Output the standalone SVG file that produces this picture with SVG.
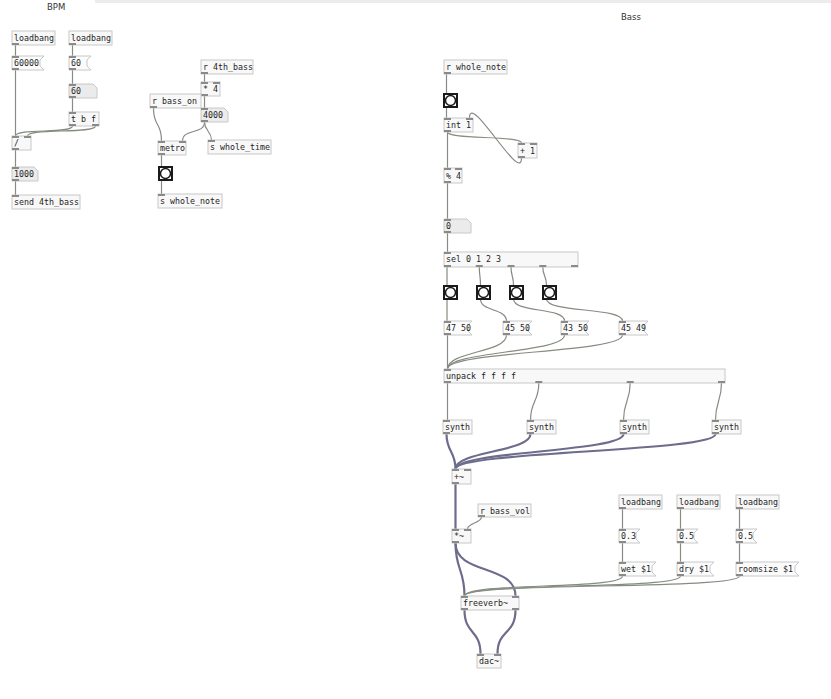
<svg xmlns="http://www.w3.org/2000/svg" width="831" height="699" viewBox="0 0 831 699">
<style>
.o{fill:#f8f8f8;stroke:#c8c8c8;stroke-width:1}
.m{fill:#fbfbfb;stroke:#c8c8c8;stroke-width:1}
.a{fill:#ebebeb;stroke:#c8c8c8;stroke-width:1}
.t{font-family:"DejaVu Sans Mono",monospace;font-size:8.3px;fill:#1e1e1e}
.h{font-family:"DejaVu Sans","Liberation Sans",sans-serif;font-size:8.5px;fill:#333}
.io{fill:#8a8a8a}
.c{fill:none;stroke:#858c80;stroke-width:1.2}
.s{fill:none;stroke:#6e6c8c;stroke-width:2.2}
.bf{fill:#fff;stroke:#1a1a1a;stroke-width:2}
.bc{fill:#fff;stroke:#1a1a1a;stroke-width:1.5}
</style>
<rect width="831" height="699" fill="#fff"/>
<rect x="95" y="0" width="736" height="3" fill="#ececec"/>
<text class="h" x="47" y="10">BPM</text>
<text class="h" x="621" y="20">Bass</text>

<g id="connectors">
<!-- left -->
<path class="c" d="M15.5 45V56"/>
<path class="c" d="M15.5 70V136"/>
<path class="c" d="M72.5 45V56"/>
<path class="c" d="M72.5 70V84"/>
<path class="c" d="M72.5 98V112"/>
<path class="c" d="M72.5 126C72.5 134 15.5 128 15.5 136"/>
<path class="c" d="M95.5 126C95.5 134 27.5 128 27.5 136"/>
<path class="c" d="M15.5 150V167"/>
<path class="c" d="M15.5 181V195"/>
<!-- middle -->
<path class="c" d="M204.5 74V82"/>
<path class="c" d="M204.5 96V108"/>
<path class="c" d="M153.5 108C153.5 128 161.5 121 161.5 141"/>
<path class="c" d="M204.5 122C204.5 135 182.5 128 182.5 141"/>
<path class="c" d="M204.5 122C204.5 131 211.5 131 211.5 140"/>
<path class="c" d="M161.5 155V166"/>
<path class="c" d="M161.5 181V194"/>
<!-- right -->
<path class="c" d="M446.5 74V93"/>
<path class="c" d="M446.5 107V118"/>
<path class="c" d="M447.5 132C447.5 140 521.5 135 521.5 143"/>
<path class="c" d="M521.5 158C521.5 185 469.5 91 469.5 118"/>
<path class="c" d="M447.5 132V168"/>
<path class="c" d="M447.5 183V219"/>
<path class="c" d="M447.5 233V252"/>
<path class="c" d="M447 267V285"/>
<path class="c" d="M479.3 267C479.3 276 480.5 276 480.5 285"/>
<path class="c" d="M511 267C511 276 513.5 276 513.5 285"/>
<path class="c" d="M542.8 267C542.8 276 546.5 276 546.5 285"/>
<path class="c" d="M447 299V321"/>
<path class="c" d="M480.5 299C480.5 312 506.5 308 506.5 321"/>
<path class="c" d="M513.5 299C513.5 313 564.5 307 564.5 321"/>
<path class="c" d="M546.5 299C546.5 313 622.5 307 622.5 321"/>
<path class="c" d="M447.5 335V369"/>
<path class="c" d="M506.5 335C506.5 353 447.5 351 447.5 369"/>
<path class="c" d="M564.5 335C564.5 353 447.5 351 447.5 369"/>
<path class="c" d="M622.5 335C622.5 353 447.5 351 447.5 369"/>
<path class="c" d="M447.5 383V420"/>
<path class="c" d="M538.8 383C538.8 402 530.5 401 530.5 420"/>
<path class="c" d="M630.2 383C630.2 402 623.5 401 623.5 420"/>
<path class="c" d="M721.5 383C721.5 402 715.5 401 715.5 420"/>
<path class="s" d="M446.5 434C446.5 452 455.5 451 455.5 469"/>
<path class="s" d="M530.5 434C530.5 452 455.5 451 455.5 469"/>
<path class="s" d="M623.5 434C623.5 452 455.5 451 455.5 469"/>
<path class="s" d="M715.5 434C715.5 452 455.5 451 455.5 469"/>
<path class="s" d="M455.5 484V529"/>
<path class="c" d="M481.5 517C481.5 523 467.5 523 467.5 529"/>
<path class="s" d="M455.5 543C455.5 570 464.5 569 464.5 596"/>
<path class="s" d="M455.5 543C455.5 575 515.5 564 515.5 596"/>
<path class="c" d="M622.5 509V529"/>
<path class="c" d="M622.5 543V562"/>
<path class="c" d="M680.5 509V529"/>
<path class="c" d="M680.5 543V562"/>
<path class="c" d="M739.5 509V529"/>
<path class="c" d="M739.5 543V562"/>
<path class="c" d="M622.5 576C622.5 590 464.5 582 464.5 596"/>
<path class="c" d="M680.5 576C680.5 590 464.5 582 464.5 596"/>
<path class="c" d="M739.5 576C739.5 590 464.5 582 464.5 596"/>
<path class="s" d="M464.5 610C464.5 635 480.5 629 480.5 654"/>
<path class="s" d="M515.5 610C515.5 635 497.5 629 497.5 654"/>
</g>

<!-- LEFT -->
<g id="loadbang1"><rect class="o" x="12" y="31" width="43" height="14"/><text class="t" x="14" y="41">loadbang</text><rect class="io" x="12" y="43" width="7" height="2"/></g>
<g id="loadbang2"><rect class="o" x="69" y="31" width="43" height="14"/><text class="t" x="71" y="41">loadbang</text><rect class="io" x="69" y="43" width="7" height="2"/></g>
<g id="msg60000"><polygon class="m" points="12,56 44,56 40,60 40,66 44,70 12,70"/><text class="t" x="14" y="66">60000</text><rect class="io" x="12" y="56" width="7" height="2"/><rect class="io" x="12" y="68" width="7" height="2"/></g>
<g id="msg60"><polygon class="m" points="69,56 91,56 87,60 87,66 91,70 69,70"/><text class="t" x="71" y="66">60</text><rect class="io" x="69" y="56" width="7" height="2"/><rect class="io" x="69" y="68" width="7" height="2"/></g>
<g id="num60"><polygon class="a" points="69,84 93,84 97,88 97,98 69,98"/><text class="t" x="71" y="94">60</text><rect class="io" x="69" y="84" width="7" height="2"/><rect class="io" x="69" y="96" width="7" height="2"/></g>
<g id="tbf"><rect class="o" x="69" y="112" width="30" height="14"/><text class="t" x="71" y="122">t b f</text><rect class="io" x="69" y="112" width="7" height="2"/><rect class="io" x="69" y="124" width="7" height="2"/><rect class="io" x="92" y="124" width="7" height="2"/></g>
<g id="div"><rect class="o" x="12" y="136" width="19" height="14"/><text class="t" x="14" y="146">/</text><rect class="io" x="12" y="136" width="7" height="2"/><rect class="io" x="24" y="136" width="7" height="2"/><rect class="io" x="12" y="148" width="7" height="2"/></g>
<g id="num1000"><polygon class="a" points="12,167 34,167 38,171 38,181 12,181"/><text class="t" x="14" y="177">1000</text><rect class="io" x="12" y="167" width="7" height="2"/><rect class="io" x="12" y="179" width="7" height="2"/></g>
<g id="send4th"><rect class="o" x="12" y="195" width="68" height="14"/><text class="t" x="14" y="205">send 4th_bass</text><rect class="io" x="12" y="195" width="7" height="2"/></g>

<!-- MIDDLE -->
<g id="r4th"><rect class="o" x="201" y="60" width="52" height="14"/><text class="t" x="203" y="70">r 4th_bass</text><rect class="io" x="201" y="72" width="7" height="2"/></g>
<g id="mul4"><rect class="o" x="201" y="82" width="19" height="14"/><text class="t" x="203" y="92">* 4</text><rect class="io" x="201" y="82" width="7" height="2"/><rect class="io" x="213" y="82" width="7" height="2"/><rect class="io" x="201" y="94" width="7" height="2"/></g>
<g id="rbasson"><rect class="o" x="150" y="94" width="51" height="14"/><text class="t" x="152" y="104">r bass_on</text><rect class="io" x="150" y="106" width="7" height="2"/></g>
<g id="num4000"><polygon class="a" points="201,108 224,108 228,112 228,122 201,122"/><text class="t" x="203" y="118">4000</text><rect class="io" x="201" y="108" width="7" height="2"/><rect class="io" x="201" y="120" width="7" height="2"/></g>
<g id="metro"><rect class="o" x="158" y="141" width="28" height="14"/><text class="t" x="160" y="151">metro</text><rect class="io" x="158" y="141" width="7" height="2"/><rect class="io" x="179" y="141" width="7" height="2"/><rect class="io" x="158" y="153" width="7" height="2"/></g>
<g id="swholetime"><rect class="o" x="208" y="140" width="63" height="14"/><text class="t" x="210" y="150">s whole_time</text><rect class="io" x="208" y="140" width="7" height="2"/></g>
<g id="bangm"><rect class="bf" x="159" y="167" width="13" height="13"/><circle class="bc" cx="165.5" cy="173.5" r="5"/></g>
<g id="swholenote"><rect class="o" x="158" y="194" width="64" height="14"/><text class="t" x="160" y="204">s whole_note</text><rect class="io" x="158" y="194" width="7" height="2"/></g>

<!-- RIGHT -->
<g id="rwholenote"><rect class="o" x="444" y="60" width="63" height="14"/><text class="t" x="446" y="70">r whole_note</text><rect class="io" x="444" y="72" width="7" height="2"/></g>
<g id="bang0"><rect class="bf" x="444" y="94" width="13" height="13"/><circle class="bc" cx="450.5" cy="100.5" r="5"/></g>
<g id="int1"><rect class="o" x="444" y="118" width="29" height="14"/><text class="t" x="446" y="128">int 1</text><rect class="io" x="444" y="118" width="7" height="2"/><rect class="io" x="466" y="118" width="7" height="2"/><rect class="io" x="444" y="130" width="7" height="2"/></g>
<g id="plus1"><rect class="o" x="518" y="143" width="19" height="15"/><text class="t" x="520" y="154">+ 1</text><rect class="io" x="518" y="143" width="7" height="2"/><rect class="io" x="530" y="143" width="7" height="2"/><rect class="io" x="518" y="156" width="7" height="2"/></g>
<g id="mod4"><rect class="o" x="444" y="168" width="18" height="15"/><text class="t" x="446" y="179">% 4</text><rect class="io" x="444" y="168" width="7" height="2"/><rect class="io" x="455" y="168" width="7" height="2"/><rect class="io" x="444" y="181" width="7" height="2"/></g>
<g id="num0"><polygon class="a" points="444,219 467,219 471,223 471,233 444,233"/><text class="t" x="446" y="229">0</text><rect class="io" x="444" y="219" width="7" height="2"/><rect class="io" x="444" y="231" width="7" height="2"/></g>
<g id="sel"><rect class="o" x="444" y="252" width="134" height="15"/><text class="t" x="446" y="262">sel 0 1 2 3</text><rect class="io" x="444" y="252" width="7" height="2"/><rect class="io" x="444" y="265" width="7" height="2"/><rect class="io" x="475.8" y="265" width="7" height="2"/><rect class="io" x="507.5" y="265" width="7" height="2"/><rect class="io" x="539.3" y="265" width="7" height="2"/><rect class="io" x="571" y="265" width="7" height="2"/></g>
<g id="bang1"><rect class="bf" x="444" y="286" width="13" height="13"/><circle class="bc" cx="450.5" cy="292.5" r="5"/></g>
<g id="bang2"><rect class="bf" x="477" y="286" width="13" height="13"/><circle class="bc" cx="483.5" cy="292.5" r="5"/></g>
<g id="bang3"><rect class="bf" x="510" y="286" width="13" height="13"/><circle class="bc" cx="516.5" cy="292.5" r="5"/></g>
<g id="bang4"><rect class="bf" x="543" y="286" width="13" height="13"/><circle class="bc" cx="549.5" cy="292.5" r="5"/></g>
<g id="msg4750"><polygon class="m" points="444,321 472,321 468,325 468,331 472,335 444,335"/><text class="t" x="446" y="331">47 50</text><rect class="io" x="444" y="321" width="7" height="2"/><rect class="io" x="444" y="333" width="7" height="2"/></g>
<g id="msg4550"><polygon class="m" points="503,321 532,321 528,325 528,331 532,335 503,335"/><text class="t" x="505" y="331">45 50</text><rect class="io" x="503" y="321" width="7" height="2"/><rect class="io" x="503" y="333" width="7" height="2"/></g>
<g id="msg4350"><polygon class="m" points="561,321 589,321 585,325 585,331 589,335 561,335"/><text class="t" x="563" y="331">43 50</text><rect class="io" x="561" y="321" width="7" height="2"/><rect class="io" x="561" y="333" width="7" height="2"/></g>
<g id="msg4549"><polygon class="m" points="619,321 648,321 644,325 644,331 648,335 619,335"/><text class="t" x="621" y="331">45 49</text><rect class="io" x="619" y="321" width="7" height="2"/><rect class="io" x="619" y="333" width="7" height="2"/></g>
<g id="unpack"><rect class="o" x="444" y="369" width="281" height="14"/><text class="t" x="446" y="379">unpack f f f f</text><rect class="io" x="444" y="369" width="7" height="2"/><rect class="io" x="444" y="381" width="7" height="2"/><rect class="io" x="535.3" y="381" width="7" height="2"/><rect class="io" x="626.7" y="381" width="7" height="2"/><rect class="io" x="718" y="381" width="7" height="2"/></g>
<g id="synth1"><rect class="o" x="443" y="420" width="29" height="14"/><text class="t" x="445" y="430">synth</text><rect class="io" x="443" y="420" width="7" height="2"/><rect class="io" x="443" y="432" width="7" height="2"/></g>
<g id="synth2"><rect class="o" x="527" y="420" width="29" height="14"/><text class="t" x="529" y="430">synth</text><rect class="io" x="527" y="420" width="7" height="2"/><rect class="io" x="527" y="432" width="7" height="2"/></g>
<g id="synth3"><rect class="o" x="620" y="420" width="29" height="14"/><text class="t" x="622" y="430">synth</text><rect class="io" x="620" y="420" width="7" height="2"/><rect class="io" x="620" y="432" width="7" height="2"/></g>
<g id="synth4"><rect class="o" x="712" y="420" width="29" height="14"/><text class="t" x="714" y="430">synth</text><rect class="io" x="712" y="420" width="7" height="2"/><rect class="io" x="712" y="432" width="7" height="2"/></g>
<g id="addsig"><rect class="o" x="452" y="469" width="19" height="15"/><text class="t" x="454" y="480">+~</text><rect class="io" x="452" y="469" width="7" height="2"/><rect class="io" x="464" y="469" width="7" height="2"/><rect class="io" x="452" y="482" width="7" height="2"/></g>
<g id="rbassvol"><rect class="o" x="478" y="504" width="53" height="13"/><text class="t" x="480" y="514">r bass_vol</text><rect class="io" x="478" y="515" width="7" height="2"/></g>
<g id="mulsig"><rect class="o" x="452" y="529" width="19" height="14"/><text class="t" x="454" y="539">*~</text><rect class="io" x="452" y="529" width="7" height="2"/><rect class="io" x="464" y="529" width="7" height="2"/><rect class="io" x="452" y="541" width="7" height="2"/></g>
<g id="loadbang3"><rect class="o" x="619" y="495" width="43" height="14"/><text class="t" x="621" y="505">loadbang</text><rect class="io" x="619" y="507" width="7" height="2"/></g>
<g id="loadbang4"><rect class="o" x="677" y="495" width="43" height="14"/><text class="t" x="679" y="505">loadbang</text><rect class="io" x="677" y="507" width="7" height="2"/></g>
<g id="loadbang5"><rect class="o" x="736" y="495" width="43" height="14"/><text class="t" x="738" y="505">loadbang</text><rect class="io" x="736" y="507" width="7" height="2"/></g>
<g id="msg03"><polygon class="m" points="619,529 640,529 636,533 636,539 640,543 619,543"/><text class="t" x="621" y="539">0.3</text><rect class="io" x="619" y="529" width="7" height="2"/><rect class="io" x="619" y="541" width="7" height="2"/></g>
<g id="msg05a"><polygon class="m" points="677,529 698,529 694,533 694,539 698,543 677,543"/><text class="t" x="679" y="539">0.5</text><rect class="io" x="677" y="529" width="7" height="2"/><rect class="io" x="677" y="541" width="7" height="2"/></g>
<g id="msg05b"><polygon class="m" points="736,529 757,529 753,533 753,539 757,543 736,543"/><text class="t" x="738" y="539">0.5</text><rect class="io" x="736" y="529" width="7" height="2"/><rect class="io" x="736" y="541" width="7" height="2"/></g>
<g id="msgwet"><polygon class="m" points="619,562 656,562 652,566 652,572 656,576 619,576"/><text class="t" x="621" y="572">wet $1</text><rect class="io" x="619" y="562" width="7" height="2"/><rect class="io" x="619" y="574" width="7" height="2"/></g>
<g id="msgdry"><polygon class="m" points="677,562 714,562 710,566 710,572 714,576 677,576"/><text class="t" x="679" y="572">dry $1</text><rect class="io" x="677" y="562" width="7" height="2"/><rect class="io" x="677" y="574" width="7" height="2"/></g>
<g id="msgroom"><polygon class="m" points="736,562 799,562 795,566 795,572 799,576 736,576"/><text class="t" x="738" y="572">roomsize $1</text><rect class="io" x="736" y="562" width="7" height="2"/><rect class="io" x="736" y="574" width="7" height="2"/></g>
<g id="freeverb"><rect class="o" x="461" y="596" width="58" height="14"/><text class="t" x="463" y="606">freeverb~</text><rect class="io" x="461" y="596" width="7" height="2"/><rect class="io" x="512" y="596" width="7" height="2"/><rect class="io" x="461" y="608" width="7" height="2"/><rect class="io" x="512" y="608" width="7" height="2"/></g>
<g id="dac"><rect class="o" x="477" y="654" width="24" height="14"/><text class="t" x="479" y="664">dac~</text><rect class="io" x="477" y="654" width="7" height="2"/><rect class="io" x="494" y="654" width="7" height="2"/></g>
</svg>
